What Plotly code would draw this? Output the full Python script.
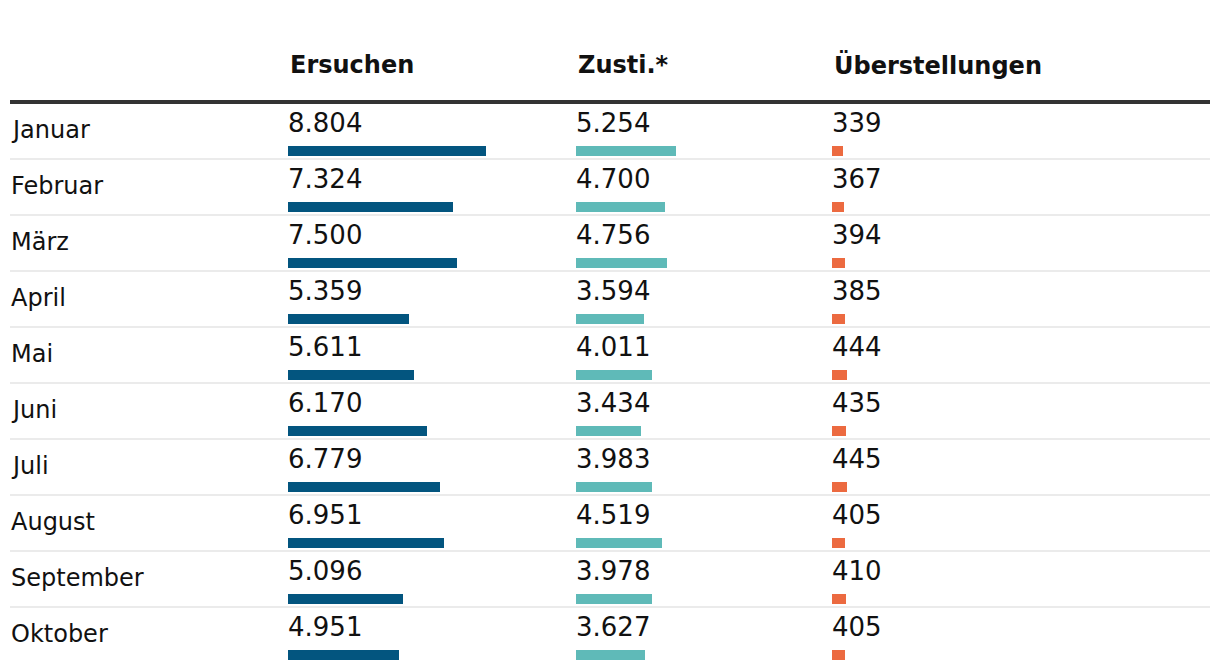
import plotly.graph_objects as go

months = ["Januar", "Februar", "März", "April", "Mai", "Juni", "Juli", "August", "September", "Oktober"]
ersuchen = [8804, 7324, 7500, 5359, 5611, 6170, 6779, 6951, 5096, 4951]
zustimmungen = [5254, 4700, 4756, 3594, 4011, 3434, 3983, 4519, 3978, 3627]
ueberstellungen = [339, 367, 394, 385, 444, 435, 445, 405, 410, 405]
headers = ["Ersuchen", "Zusti.*", "Überstellungen"]

W, H = 1220, 672
OFF = 8              # page body margin in the browser
ROW = 56.0           # row pitch in px
Y0 = 151.0           # screen y of the first bar centre

def py(s):           # screen pixel y -> y data value
    return (s - Y0) / ROW

def px(s):           # screen pixel x -> paper fraction
    return (s - OFF) / W

col_x = [288, 576, 832]
col_end = [576, 832, 1220]
px_per_unit = [198 / 8804, 100 / 5254, 0.033]
colors = ["#03557f", "#5fbab8", "#ec6a40"]
series = [ersuchen, zustimmungen, ueberstellungen]

def fmt(v):
    return f"{v:,}".replace(",", ".")

fig = go.Figure()
axes = ["x", "x2", "x3"]
rows = list(range(len(months)))
for k in range(3):
    fig.add_trace(go.Bar(
        y=rows, x=series[k], orientation="h", base=0,
        width=10 / ROW, marker=dict(color=colors[k], line=dict(width=0)),
        xaxis=axes[k], yaxis="y", showlegend=False, hoverinfo="skip"))

layout_axes = {}
for k in range(3):
    name = "xaxis" if k == 0 else f"xaxis{k+1}"
    d0, d1 = px(col_x[k]), min(px(col_end[k]), 1.0)
    width_px = (d1 - d0) * W
    layout_axes[name] = dict(
        domain=[d0, d1],
        range=[0, width_px / px_per_unit[k]],
        visible=False, fixedrange=True,
        anchor="y")

fig.update_layout(
    width=W, height=H,
    margin=dict(l=0, r=0, t=0, b=0),
    paper_bgcolor="white", plot_bgcolor="white",
    bargap=0,
    yaxis=dict(range=[py(OFF + H), py(OFF)], visible=False, fixedrange=True),
    font=dict(family="DejaVu Sans", color="#111111"),
    **layout_axes,
)

annotations = []
for k in range(3):
    annotations.append(dict(
        x=px(col_x[k]), y=py(65), xref="paper", yref="y", text=f"<b>{headers[k]}</b>",
        showarrow=False, xanchor="left", yanchor="middle",
        font=dict(family="DejaVu Sans", size=24, color="#111111")))
for i, m in enumerate(months):
    annotations.append(dict(
        x=px(9), y=i + (130 - Y0) / ROW, xref="paper", yref="y", text=m,
        showarrow=False, xanchor="left", yanchor="middle",
        font=dict(size=24, color="#111111")))
    for k in range(3):
        annotations.append(dict(
            x=px(col_x[k] - 2), y=i + (123 - Y0) / ROW, xref="paper", yref="y",
            text=fmt(series[k][i]),
            showarrow=False, xanchor="left", yanchor="middle",
            font=dict(size=26, color="#111111")))
fig.update_layout(annotations=annotations)

shapes = [dict(type="line", xref="paper", yref="y", x0=px(10), x1=px(1210),
               y0=py(102), y1=py(102), line=dict(color="#333333", width=4))]
for i in range(len(months) - 1):
    yy = i + (159 - Y0) / ROW
    shapes.append(dict(type="line", xref="paper", yref="y", x0=px(10), x1=px(1210),
                       y0=yy, y1=yy, line=dict(color="#ebebeb", width=2)))
fig.update_layout(shapes=shapes)

fig.write_html("out.html")
